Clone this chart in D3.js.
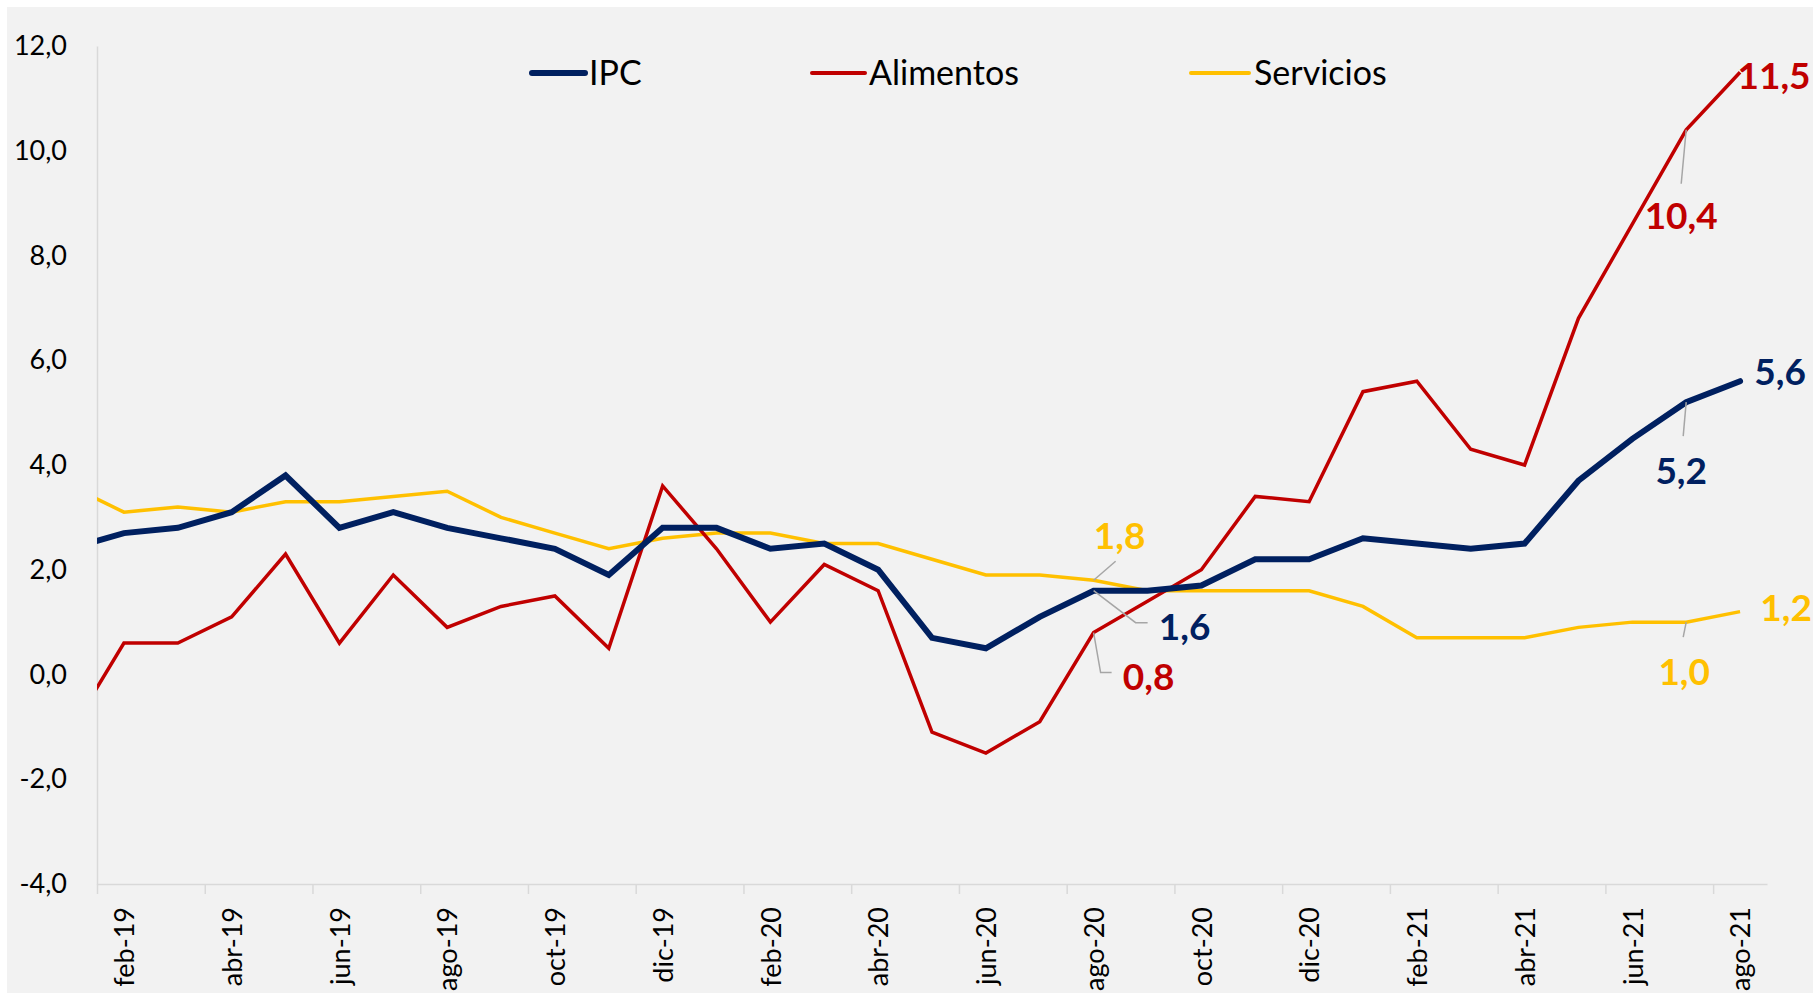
<!DOCTYPE html>
<html>
<head>
<meta charset="utf-8">
<script src="https://cdn.jsdelivr.net/npm/d3@7"></script>
<style>
  body { margin: 0; background: #fff; }
  svg { display: block; font-family: Lato, "Open Sans", sans-serif; }
</style>
</head>
<body>
<div id="chart"></div>
<script>
// data (ene-19 is only there so the lines start at the axis edge, it gets clipped)
var months = ["ene-19","feb-19","mar-19","abr-19","may-19","jun-19","jul-19","ago-19","sep-19","oct-19","nov-19","dic-19",
              "ene-20","feb-20","mar-20","abr-20","may-20","jun-20","jul-20","ago-20","sep-20","oct-20","nov-20","dic-20",
              "ene-21","feb-21","mar-21","abr-21","may-21","jun-21","jul-21","ago-21"];
var ipc = [2.4, 2.7, 2.8, 3.1, 3.8, 2.8, 3.1, 2.8, 2.6, 2.4, 1.9, 2.8,
           2.8, 2.4, 2.5, 2.0, 0.7, 0.5, 1.1, 1.6, 1.6, 1.7, 2.2, 2.2,
           2.6, 2.5, 2.4, 2.5, 3.7, 4.5, 5.2, 5.6];
var alimentos = [-1.1, 0.6, 0.6, 1.1, 2.3, 0.6, 1.9, 0.9, 1.3, 1.5, 0.5, 3.6,
                 2.4, 1.0, 2.1, 1.6, -1.1, -1.5, -0.9, 0.8, 1.4, 2.0, 3.4, 3.3,
                 5.4, 5.6, 4.3, 4.0, 6.8, 8.6, 10.4, 11.5];
var servicios = [3.6, 3.1, 3.2, 3.1, 3.3, 3.3, 3.4, 3.5, 3.0, 2.7, 2.4, 2.6,
                 2.7, 2.7, 2.5, 2.5, 2.2, 1.9, 1.9, 1.8, 1.6, 1.6, 1.6, 1.6,
                 1.3, 0.7, 0.7, 0.7, 0.9, 1.0, 1.0, 1.2];
var yTicks = [-4, -2, 0, 2, 4, 6, 8, 10, 12];
var seriesNames = ["IPC", "Alimentos", "Servicios"];
var seriesColors = ["#002060", "#C00000", "#FFC000"];

// setup
var w = 1813;
var h = 993;
var mLeft = 97, mRight = 1767, mTop = 46, mBottom = 884;

var svg = d3.select("#chart").append("svg")
    .attr("width", w)
    .attr("height", h);

svg.append("rect")
    .attr("x", 7).attr("y", 7)
    .attr("width", w - 7).attr("height", h - 7)
    .attr("fill", "#f2f2f2");

var x = d3.scaleLinear().domain([0.5, months.length - 0.5]).range([mLeft, mRight]);
var y = d3.scaleLinear().domain([-4, 12]).range([mBottom, mTop]);
var fmt = function(v) { return d3.format(".1f")(v).replace(".", ",").replace("\u2212", "-"); };

// y axis
var yAxis = svg.append("g")
    .attr("transform", "translate(" + mLeft + ",0)")
    .call(d3.axisLeft(y).tickValues(yTicks).tickSize(0).tickPadding(30).tickFormat(fmt));
yAxis.select(".domain").attr("stroke", "#d9d9d9").attr("stroke-width", 1.5);
yAxis.selectAll("text").attr("font-size", 27).attr("fill", "#000").attr("font-family", "Lato, sans-serif");

// x axis: tick marks on boundaries every 2 months
var bounds = d3.range(0.5, months.length - 1, 2);
var xTickAxis = svg.append("g")
    .attr("transform", "translate(0," + mBottom + ")")
    .call(d3.axisBottom(x).tickValues(bounds).tickSize(10).tickSizeOuter(0).tickFormat(""));
xTickAxis.select(".domain").attr("stroke", "#d9d9d9").attr("stroke-width", 1.5);
xTickAxis.selectAll(".tick line").attr("stroke", "#d9d9d9").attr("stroke-width", 1.5);

// x labels at centres of every other month
var labelIdx = d3.range(1, months.length, 2);
var xLabAxis = svg.append("g")
    .attr("transform", "translate(0," + mBottom + ")")
    .call(d3.axisBottom(x).tickValues(labelIdx).tickSize(0).tickFormat(function(d){ return months[d]; }));
xLabAxis.select(".domain").remove();
xLabAxis.selectAll("text")
    .attr("transform", "rotate(-90)")
    .attr("x", -23).attr("y", 0).attr("dy", "0.36em")
    .style("text-anchor", "end")
    .attr("font-size", 27).attr("fill", "#000").attr("font-family", "Lato, sans-serif");

// lines
svg.append("clipPath").attr("id", "plot")
  .append("rect").attr("x", mLeft).attr("y", 0).attr("width", mRight - mLeft + 10).attr("height", mBottom);

var line = d3.line()
    .x(function(d, i){ return x(i); })
    .y(function(d){ return y(d); });

var seriesData = [servicios, alimentos, ipc];
var seriesWidth = [3.5, 3.5, 6];
var seriesCol = [seriesColors[2], seriesColors[1], seriesColors[0]];
svg.append("g").attr("clip-path", "url(#plot)")
  .selectAll("path")
  .data(seriesData)
  .enter()
  .append("path")
    .attr("d", line)
    .attr("fill", "none")
    .attr("stroke", function(d, i){ return seriesCol[i]; })
    .attr("stroke-width", function(d, i){ return seriesWidth[i]; })
    .attr("stroke-linejoin", "miter")
    .attr("stroke-linecap", function(d, i){ return i == 2 ? "round" : "butt"; });

// legend
var legendX = [532, 812, 1191];
var legend = svg.append("g").selectAll("g")
    .data(seriesNames)
    .enter()
    .append("g")
    .attr("transform", function(d, i){ return "translate(" + legendX[i] + ",73)"; });
legend.append("line")
    .attr("x1", 0).attr("x2", function(d, i){ return i == 2 ? 58 : 53; })
    .attr("y1", 0).attr("y2", 0)
    .attr("stroke", function(d, i){ return seriesColors[i]; })
    .attr("stroke-width", function(d, i){ return i == 0 ? 6 : 4; })
    .attr("stroke-linecap", "round");
legend.append("text")
    .attr("x", function(d, i){ return i == 2 ? 63 : 57; })
    .attr("y", 12)
    .attr("font-size", 34)
    .attr("fill", "#000")
    .text(function(d){ return d; });

// data labels: series, month index, label offset from point, leader path offsets
var labels = [
  {s: 1, i: 31, dx: 34, dy: 17, lead: null},
  {s: 1, i: 30, dx: -5, dy: 99, lead: [[0, 0], [-5, 54]]},
  {s: 0, i: 31, dx: 40, dy: 4, lead: null},
  {s: 0, i: 30, dx: -5, dy: 82, lead: [[0, 0], [-3, 34]]},
  {s: 2, i: 19, dx: 26, dy: -31, lead: [[0, 0], [22, -19]]},
  {s: 0, i: 19, dx: 91, dy: 49, lead: [[0, 0], [42, 32], [54, 32]]},
  {s: 1, i: 19, dx: 55, dy: 57, lead: [[0, 0], [7, 40], [18, 40]]},
  {s: 2, i: 31, dx: 46, dy: 9, lead: null},
  {s: 2, i: 30, dx: -2, dy: 63, lead: [[0, 0], [-3, 15]]}
];
var allSeries = [ipc, alimentos, servicios];
labels.forEach(function(l){
  var v = allSeries[l.s][l.i];
  var px = x(l.i), py = y(v);
  if (l.lead) {
    svg.append("path")
      .attr("d", d3.line()(l.lead.map(function(p){ return [px + p[0], py + p[1]]; })))
      .attr("fill", "none")
      .attr("stroke", "#a6a6a6")
      .attr("stroke-width", 1.5);
  }
  svg.append("text")
    .attr("x", px + l.dx)
    .attr("y", py + l.dy)
    .attr("text-anchor", "middle")
    .attr("font-size", 37)
    .attr("font-weight", "bold")
    .attr("fill", seriesColors[l.s])
    .text(fmt(v));
});
</script>
</body>
</html>
